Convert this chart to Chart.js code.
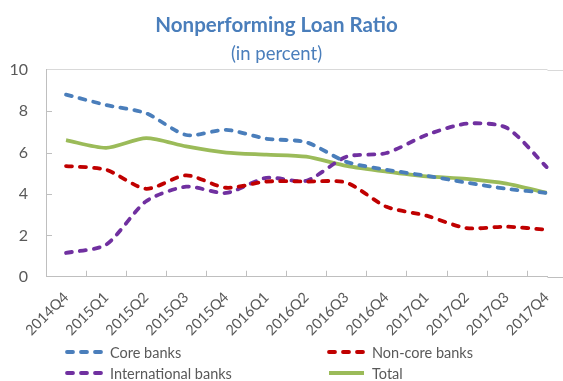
<!DOCTYPE html>
<html>
<head>
<meta charset="utf-8">
<script src="https://cdn.jsdelivr.net/npm/chart.js@4"></script>
<style>
  html, body { margin: 0; padding: 0; background: #fff; }
  #wrap { width: 563px; height: 381px; }
</style>
</head>
<body>
<div id="wrap"><canvas id="nplChart"></canvas></div>
<script>
const quarters = ['2014Q4', '2015Q1', '2015Q2', '2015Q3', '2015Q4', '2016Q1', '2016Q2',
                  '2016Q3', '2016Q4', '2017Q1', '2017Q2', '2017Q3', '2017Q4'];
const coreBanks = [8.8, 8.3, 7.9, 6.85, 7.1, 6.67, 6.5, 5.55, 5.17, 4.88, 4.55, 4.25, 4.05];
const nonCoreBanks = [5.35, 5.17, 4.25, 4.9, 4.3, 4.6, 4.6, 4.55, 3.38, 2.95, 2.35, 2.42, 2.27];
const internationalBanks = [1.15, 1.55, 3.65, 4.35, 4.05, 4.78, 4.64, 5.8, 5.98, 6.85, 7.4, 7.2, 5.3];
const total = [6.6, 6.23, 6.7, 6.3, 6.0, 5.9, 5.8, 5.36, 5.08, 4.85, 4.73, 4.5, 4.05];
const yTicks = [0, 2, 4, 6, 8, 10];

const FONT = 'Lato, "Open Sans", sans-serif';
const GREY = '#595959';
const AXIS = '#bfbfbf';

function series(label, values, color, dashed) {
    return {
        label: label,
        // quarters are placed on a numeric axis by their index
        data: values.map((v, i) => ({ x: i, y: v })),
        borderColor: color,
        backgroundColor: color,
        borderWidth: 3.8,
        borderDash: dashed ? [6, 8] : [],
        borderCapStyle: dashed ? 'round' : 'butt',
        pointRadius: 0,
        tension: 0.25,
        fill: false,
        clip: 6,
    };
}

// small tick marks pointing into the plot, plus the frame lines run out to the edge
const insideTicks = {
    id: 'insideTicks',
    beforeDatasetsDraw(chart) {
        const { ctx, scales: { x, y } } = chart;
        ctx.save();
        ctx.strokeStyle = AXIS;
        ctx.lineWidth = 1;
        for (let i = 0; i < quarters.length - 1; i++) {
            const px = Math.round(x.getPixelForValue(i + 0.5)) + 0.5;
            ctx.beginPath();
            ctx.moveTo(px, y.bottom);
            ctx.lineTo(px, y.bottom - 6);
            ctx.stroke();
        }
        yTicks.forEach(v => {
            if (v === 0 || v === 10) return;
            const py = Math.round(y.getPixelForValue(v)) + 0.5;
            ctx.beginPath();
            ctx.moveTo(x.left, py);
            ctx.lineTo(x.left + 6, py);
            ctx.stroke();
        });
        const yb = Math.round(y.bottom) + 0.5;
        ctx.beginPath();
        ctx.moveTo(x.right, yb);
        ctx.lineTo(chart.width, yb);
        ctx.stroke();
        ctx.strokeStyle = '#d9d9d9';
        const yt = Math.round(y.top) + 0.5;
        ctx.beginPath();
        ctx.moveTo(x.right, yt);
        ctx.lineTo(chart.width, yt);
        ctx.stroke();
        ctx.restore();
    }
};

// two-column legend under the axis labels
const gridLegend = {
    id: 'gridLegend',
    afterDraw(chart) {
        const ctx = chart.ctx;
        const cols = [65, 327];
        const rows = [352, 373];
        ctx.save();
        ctx.font = '14.5px ' + FONT;
        ctx.textBaseline = 'middle';
        chart.data.datasets.forEach((ds, i) => {
            const x0 = cols[i % 2];
            const y0 = rows[Math.floor(i / 2)];
            ctx.strokeStyle = ds.borderColor;
            ctx.lineWidth = ds.borderWidth;
            ctx.lineCap = ds.borderCapStyle;
            ctx.setLineDash(ds.borderDash);
            ctx.beginPath();
            ctx.moveTo(x0 + 2, y0);
            ctx.lineTo(x0 + 37, y0);
            ctx.stroke();
            ctx.setLineDash([]);
            ctx.fillStyle = GREY;
            ctx.fillText(ds.label, x0 + 45, y0 + 1);
        });
        ctx.restore();
    }
};

const ctx = document.getElementById('nplChart').getContext('2d');
const nplChart = new Chart(ctx, {
    type: 'line',
    data: {
        datasets: [
            series('Core banks', coreBanks, '#4a7ebb', true),
            series('Non-core banks', nonCoreBanks, '#c00000', true),
            series('International banks', internationalBanks, '#7030a0', true),
            series('Total', total, '#9bbb59', false),
        ]
    },
    options: {
        responsive: true,
        maintainAspectRatio: false,
        animation: false,
        layout: {
            autoPadding: false,
            padding: { left: 0, right: 10, top: 13, bottom: 38 },
        },
        plugins: {
            legend: { display: false },
            tooltip: { enabled: false },
            title: {
                display: true,
                text: 'Nonperforming Loan Ratio',
                color: '#4a7ebb',
                font: { family: FONT, size: 20.5, weight: 'bold' },
                padding: { top: 0, bottom: 5 },
            },
            subtitle: {
                display: true,
                text: '(in percent)',
                color: '#4a7ebb',
                font: { family: FONT, size: 18.5 },
                padding: { top: 0, bottom: 5 },
            },
        },
        scales: {
            x: {
                type: 'linear',
                // half a quarter of room on the left, the last quarter sits at the edge
                min: -0.5,
                max: quarters.length - 0.98,
                afterBuildTicks: scale => { scale.ticks = quarters.map((q, i) => ({ value: i })); },
                grid: { display: false },
                border: { color: AXIS, width: 1 },
                ticks: {
                    color: GREY,
                    font: { family: FONT, size: 14.5 },
                    minRotation: 45,
                    maxRotation: 45,
                    padding: 4,
                    callback: v => quarters[v],
                },
            },
            y: {
                min: 0,
                max: 10,
                afterBuildTicks: scale => { scale.ticks = yTicks.map(v => ({ value: v })); },
                afterFit: scale => { scale.width = 46; },
                grid: {
                    drawTicks: false,
                    color: c => c.tick && c.tick.value === 10 ? '#d9d9d9' : 'transparent',
                },
                border: { color: AXIS, width: 1 },
                ticks: {
                    color: GREY,
                    font: { family: FONT, size: 16 },
                    padding: 18,
                },
            },
        },
    },
    plugins: [insideTicks, gridLegend],
});
</script>
</body>
</html>
